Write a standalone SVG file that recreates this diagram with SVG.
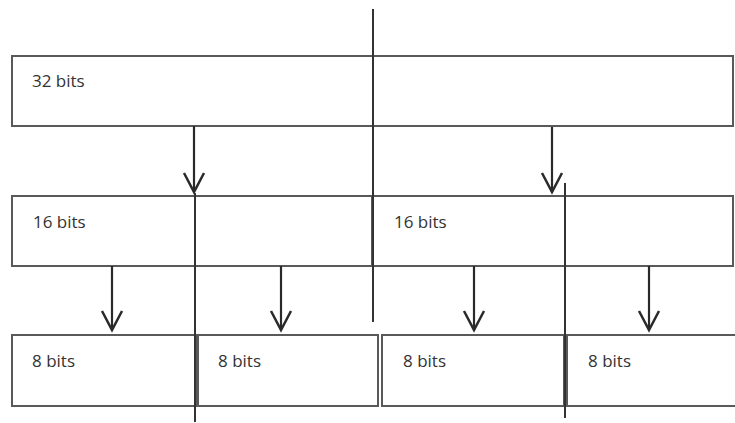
<svg xmlns="http://www.w3.org/2000/svg" width="735" height="423" viewBox="0 0 735 423">
<style>
.box{fill:#fff;stroke:#595959;stroke-width:2}
.lbl{font-family:"Open Sans","Liberation Sans",sans-serif;font-size:17px;fill:#333}
.div{stroke:#333;stroke-width:2;fill:none}
.arr{stroke:#2a2a2a;stroke-width:2.2;fill:none;marker-end:url(#v)}
</style>
<defs>
<marker id="v" markerUnits="userSpaceOnUse" orient="auto" markerWidth="24" markerHeight="24" refX="0" refY="0" viewBox="-22 -12 24 24" overflow="visible">
<path d="M-19,-10 L0,0 L-19,10" fill="none" stroke="#2a2a2a" stroke-width="2.5"/>
</marker>
</defs>
<rect width="735" height="423" fill="#fff"/>
<g id="n32">
<rect class="box" x="12" y="56" width="721" height="70"/>
<text class="lbl" x="32" y="87">32 bits</text>
</g>
<g id="n16a">
<rect class="box" x="12" y="196" width="360" height="70"/>
<text class="lbl" x="33" y="228">16 bits</text>
</g>
<g id="n16b">
<rect class="box" x="373" y="196" width="360" height="70"/>
<text class="lbl" x="394" y="228">16 bits</text>
</g>
<g id="n8a">
<rect class="box" x="12" y="335" width="184" height="71"/>
<text class="lbl" x="32" y="367">8 bits</text>
</g>
<g id="n8b">
<rect class="box" x="198" y="335" width="180" height="71"/>
<text class="lbl" x="218" y="367">8 bits</text>
</g>
<g id="n8c">
<rect class="box" x="382" y="335" width="182" height="71"/>
<text class="lbl" x="403" y="367">8 bits</text>
</g>
<g id="n8d">
<rect class="box" x="567" y="335" width="172" height="71"/>
<text class="lbl" x="588" y="367">8 bits</text>
</g>
<g id="dividers">
<line class="div" x1="373" y1="9" x2="373" y2="322"/>
<line class="div" x1="195" y1="193" x2="195" y2="422"/>
<line class="div" x1="565" y1="183" x2="565" y2="418"/>
</g>
<g id="connectors">
<line class="arr" x1="194" y1="126" x2="194" y2="192"/>
<line class="arr" x1="552" y1="127" x2="552" y2="192"/>
<line class="arr" x1="112" y1="266" x2="112" y2="330"/>
<line class="arr" x1="281" y1="266" x2="281" y2="330" stroke-width="3.2"/>
<line class="arr" x1="474" y1="266" x2="474" y2="330"/>
<line class="arr" x1="649" y1="266" x2="649" y2="330"/>
</g>
</svg>
